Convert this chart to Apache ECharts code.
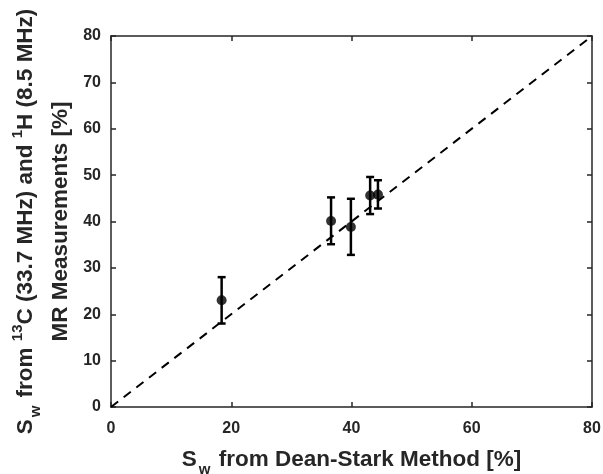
<!DOCTYPE html>
<html><head><meta charset="utf-8">
<script src="https://cdn.jsdelivr.net/npm/echarts@6/dist/echarts.min.js"></script>
<style>html,body{margin:0;padding:0;background:#fff}#c{width:603px;height:474px}</style>
</head><body><div id="c"></div>
<script>
const deanStark = [18.4, 36.6, 39.9, 43.1, 44.4];
const mrMean    = [23.0, 40.1, 38.8, 45.6, 45.8];
const errLow    = [18.0, 35.1, 32.8, 41.6, 42.8];
const errHigh   = [28.0, 45.2, 44.9, 49.6, 48.9];
const identityX = [0, 80];
const identityY = [0, 80];

const font = '"Liberation Sans", Arial, sans-serif';
const ink = '#262626';

const points = deanStark.map((x, i) => [x, mrMean[i]]);
const bars = deanStark.map((x, i) => [x, errLow[i], errHigh[i]]);
const diag = identityX.map((x, i) => [x, identityY[i]]);

const chart = echarts.init(document.getElementById('c'));
const axisCommon = {
  type: 'value', min: 0, max: 80,
  axisLine: {show: true, onZero: false, lineStyle: {color: ink, width: 1.5}},
  axisTick: {show: true, inside: true, length: 5, lineStyle: {color: ink, width: 1.5}},
  splitLine: {show: false}
};
const labelStyle = {color: ink, fontFamily: font, fontWeight: 'bold', fontSize: 16};
const rich = {
  t: {fontFamily: font, fontWeight: 'bold', fontSize: 22.5, color: ink, lineHeight: 26},
  sub: {fontFamily: font, fontWeight: 'bold', fontSize: 15, color: ink, lineHeight: 26, padding: [20, 2, 0, 2]},
  sup: {fontFamily: font, fontWeight: 'bold', fontSize: 15, color: ink, lineHeight: 26, padding: [0, 0, 16, 0]},
  gap: {fontSize: 10, lineHeight: 9}
};
chart.setOption({
  animation: false,
  grid: {left: 111, right: 11, top: 36, bottom: 67, containLabel: false, outerBoundsMode: 'none'},
  xAxis: [
    Object.assign({}, axisCommon, {
      position: 'bottom', interval: 20,
      axisLabel: Object.assign({margin: 14}, labelStyle),
      name: '{t|S}{sub|w}{t| from Dean-Stark Method [%]}',
      nameLocation: 'middle', nameGap: 32,
      nameTextStyle: {rich: rich}
    }),
    Object.assign({}, axisCommon, {position: 'top', interval: 20, axisLabel: {show: false}})
  ],
  yAxis: [
    Object.assign({}, axisCommon, {
      position: 'left', interval: 10,
      axisLabel: Object.assign({margin: 10}, labelStyle),
      name: '{t|S}{sub|w}{t| from }{sup|13}{t|C (33.7 MHz) and }{sup|1}{t|H (8.5 MHz)}\n{gap| }\n{t|MR Measurements [%]}',
      nameLocation: 'middle', nameRotate: 90, nameGap: 36,
      nameTextStyle: {rich: rich}
    }),
    Object.assign({}, axisCommon, {position: 'right', interval: 10, axisLabel: {show: false}})
  ],
  series: [
    {
      type: 'line', data: diag, symbol: 'none', silent: true,
      lineStyle: {color: '#000', width: 2, type: [9, 7]}
    },
    {
      type: 'custom', data: bars,
      renderItem: function (params, api) {
        const x = api.value(0);
        const lo = api.coord([x, api.value(1)]);
        const hi = api.coord([x, api.value(2)]);
        const w = 4;
        const st = {stroke: '#000', lineWidth: 2.5};
        return {type: 'group', children: [
          {type: 'line', shape: {x1: lo[0], y1: lo[1], x2: hi[0], y2: hi[1]}, style: st},
          {type: 'line', shape: {x1: lo[0] - w, y1: lo[1], x2: lo[0] + w, y2: lo[1]}, style: st},
          {type: 'line', shape: {x1: hi[0] - w, y1: hi[1], x2: hi[0] + w, y2: hi[1]}, style: st}
        ]};
      },
      z: 3
    },
    {
      type: 'scatter', data: points, symbol: 'circle', symbolSize: 10,
      itemStyle: {color: '#000'}, z: 4
    }
  ]
});
</script></body></html>
